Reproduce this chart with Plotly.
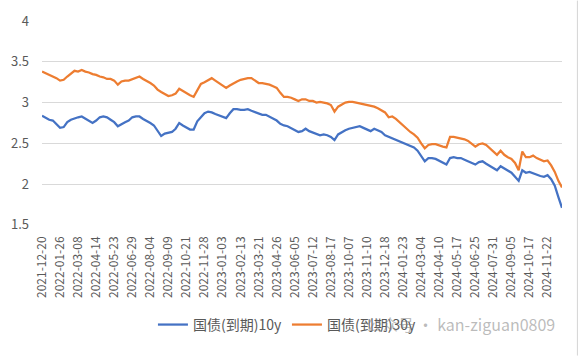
import plotly.graph_objects as go

# Tick labels on the category (trading-day) axis, one every 25 trading days
tick_labels = ["2021-12-20", "2022-01-26", "2022-03-08", "2022-04-14", "2022-05-23",
               "2022-06-29", "2022-08-04", "2022-09-09", "2022-10-21", "2022-11-28",
               "2023-01-03", "2023-02-13", "2023-03-21", "2023-04-26", "2023-06-05",
               "2023-07-12", "2023-08-17", "2023-10-07", "2023-11-10", "2023-12-18",
               "2024-01-23", "2024-03-04", "2024-04-10", "2024-05-17", "2024-06-25",
               "2024-07-31", "2024-09-05", "2024-10-17", "2024-11-22"]

# Yields, one value every 5 trading days
y10 = [2.84, 2.81, 2.79, 2.78, 2.74, 2.69, 2.70, 2.76, 2.79, 2.81,
       2.82, 2.83, 2.80, 2.78, 2.75, 2.78, 2.82, 2.83, 2.82, 2.79,
       2.76, 2.71, 2.74, 2.76, 2.78, 2.82, 2.83, 2.83, 2.80, 2.78,
       2.75, 2.72, 2.65, 2.59, 2.62, 2.63, 2.64, 2.68, 2.75, 2.72,
       2.69, 2.67, 2.67, 2.77, 2.82, 2.87, 2.89, 2.88, 2.86, 2.84,
       2.83, 2.81, 2.87, 2.92, 2.92, 2.91, 2.91, 2.92, 2.90, 2.88,
       2.86, 2.85, 2.85, 2.83, 2.81, 2.78, 2.74, 2.72, 2.71, 2.69,
       2.67, 2.64, 2.65, 2.68, 2.65, 2.63, 2.61, 2.60, 2.61, 2.60,
       2.58, 2.54, 2.61, 2.64, 2.66, 2.68, 2.69, 2.70, 2.71, 2.69,
       2.67, 2.65, 2.68, 2.66, 2.64, 2.60, 2.58, 2.56, 2.54, 2.52,
       2.50, 2.48, 2.47, 2.45, 2.41, 2.34, 2.28, 2.32, 2.32, 2.31,
       2.29, 2.27, 2.24, 2.32, 2.33, 2.32, 2.32, 2.30, 2.28, 2.26,
       2.24, 2.27, 2.28, 2.25, 2.22, 2.20, 2.17, 2.22, 2.19, 2.17,
       2.14, 2.09, 2.04, 2.17, 2.14, 2.15, 2.13, 2.11, 2.10, 2.09,
       2.11, 2.06, 1.98, 1.84, 1.71]

y30 = [3.38, 3.36, 3.35, 3.33, 3.30, 3.27, 3.28, 3.32, 3.35, 3.39,
       3.38, 3.40, 3.38, 3.37, 3.35, 3.34, 3.32, 3.31, 3.29, 3.29,
       3.27, 3.22, 3.26, 3.27, 3.27, 3.29, 3.31, 3.32, 3.29, 3.27,
       3.24, 3.21, 3.16, 3.13, 3.10, 3.08, 3.09, 3.11, 3.17, 3.14,
       3.12, 3.09, 3.07, 3.15, 3.23, 3.25, 3.27, 3.30, 3.27, 3.24,
       3.20, 3.18, 3.21, 3.24, 3.26, 3.28, 3.29, 3.30, 3.30, 3.27,
       3.24, 3.24, 3.23, 3.22, 3.20, 3.18, 3.12, 3.07, 3.07, 3.06,
       3.04, 3.02, 3.04, 3.04, 3.02, 3.02, 3.00, 3.01, 3.00, 2.99,
       2.97, 2.89, 2.95, 2.98, 3.00, 3.01, 3.01, 3.00, 2.99, 2.98,
       2.97, 2.96, 2.95, 2.93, 2.90, 2.88, 2.82, 2.83, 2.80, 2.76,
       2.71, 2.67, 2.64, 2.61, 2.57, 2.50, 2.44, 2.48, 2.49, 2.49,
       2.47, 2.46, 2.45, 2.58, 2.58, 2.57, 2.56, 2.55, 2.53, 2.50,
       2.46, 2.49, 2.50, 2.48, 2.44, 2.40, 2.36, 2.41, 2.36, 2.33,
       2.31, 2.26, 2.17, 2.40, 2.33, 2.33, 2.35, 2.32, 2.30, 2.28,
       2.29, 2.23, 2.15, 2.04, 1.96]

series_names = ["国债(到期)10y", "国债(到期)30y"]
watermark = "公众号 · kan-ziguan0809"

STEP = 5      # trading days between samples
TICK_EVERY = 25
x = [i * STEP for i in range(len(y10))]
tickvals = [i * TICK_EVERY for i in range(len(tick_labels))]

FONT = "Noto Sans CJK SC, Noto Sans, sans-serif"
GRAY = "#595959"

fig = go.Figure()
fig.add_trace(go.Scatter(x=x, y=y10, mode="lines", name=series_names[0],
                         line=dict(color="#4472C4", width=2.25)))
fig.add_trace(go.Scatter(x=x, y=y30, mode="lines", name=series_names[1],
                         line=dict(color="#ED7D31", width=2.25)))

fig.update_layout(
    width=588, height=356, autosize=False,
    margin=dict(l=42, r=26, t=21, b=131, pad=0),
    paper_bgcolor="white", plot_bgcolor="white",
    font=dict(family=FONT, color=GRAY, size=13),
    showlegend=True,
    legend=dict(orientation="h", x=0.472, xanchor="center", y=-0.49, yanchor="middle",
                font=dict(size=14, color=GRAY), itemwidth=30, bgcolor="rgba(0,0,0,0)"),
    xaxis=dict(range=[0, x[-1]], tickmode="array", tickvals=tickvals, ticktext=tick_labels,
               tickangle=-90, showgrid=False, zeroline=False, showline=False, ticks="",
               tickfont=dict(size=12, color=GRAY), ticklabelstandoff=8),
    yaxis=dict(range=[1.499, 4.001], tick0=1.5, dtick=0.5, gridcolor="#d9d9d9", gridwidth=1,
               zeroline=False, showline=False, ticks="", tickfont=dict(size=13, color=GRAY),
               ticklabelstandoff=12),
    shapes=[dict(type="line", xref="paper", yref="paper", x0=1.0296, x1=1.0296,
                 y0=-0.64, y1=1.1, line=dict(color="#d4d4d4", width=1))],
    annotations=[dict(text=watermark, xref="paper", yref="paper", x=0.62, y=-0.485,
                      xanchor="left", yanchor="middle", showarrow=False,
                      font=dict(size=16, color="rgba(120,120,120,0.5)", family=FONT))],
)

fig.write_html("out.html", config={"displayModeBar": False},
               post_script="document.body.style.margin='0';")
